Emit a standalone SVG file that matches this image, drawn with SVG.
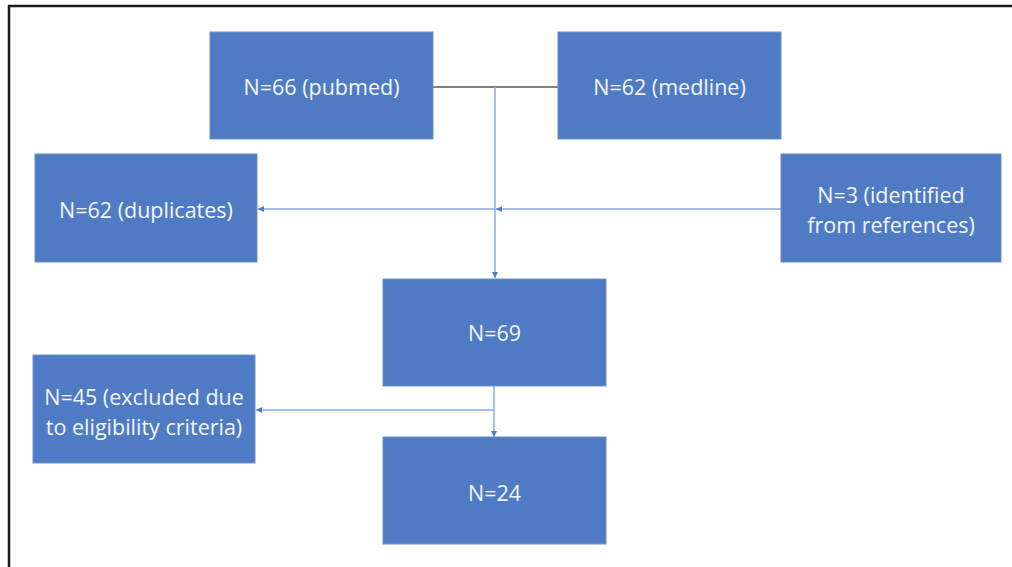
<svg xmlns="http://www.w3.org/2000/svg" width="1012" height="567" viewBox="0 0 1012 567">
<style>
.box{fill:#4f7bc4;stroke:#6a90cf;stroke-width:1}
.t{fill:#f4f6fb;font-family:"Open Sans","Liberation Sans",sans-serif;font-size:21.5px;text-anchor:middle;dominant-baseline:central}
.c{stroke:#8eaadb;stroke-width:1.5;fill:none}
</style>
<defs>
<marker id="ah" viewBox="0 0 10 10" refX="10" refY="5" markerWidth="6" markerHeight="6" orient="auto" markerUnits="userSpaceOnUse">
<path d="M0,0 L10,5 L0,10 z" fill="#4f7bc4"/>
</marker>
</defs>
<rect width="1012" height="567" fill="#fff"/>
<path d="M9,567 V6 H1012" fill="none" stroke="#1a1a1a" stroke-width="2.5"/>
<g id="connectors">
<line x1="433" y1="87" x2="558" y2="87" stroke="#7f7f7f" stroke-width="2"/>
<line class="c" x1="495" y1="87" x2="495" y2="278" marker-end="url(#ah)"/>
<line class="c" x1="781" y1="209" x2="496" y2="209" marker-end="url(#ah)"/>
<line class="c" x1="495" y1="209" x2="258" y2="209" marker-end="url(#ah)"/>
<line class="c" x1="494" y1="386" x2="494" y2="437" marker-end="url(#ah)"/>
<line class="c" x1="494" y1="410" x2="256" y2="410" marker-end="url(#ah)"/>
</g>
<g id="pubmed"><rect class="box" x="210" y="32" width="223" height="107"/><text class="t" x="321.5" y="86">N=66 (pubmed)</text></g>
<g id="medline"><rect class="box" x="558" y="32" width="223" height="107"/><text class="t" x="669.5" y="86">N=62 (medline)</text></g>
<g id="duplicates"><rect class="box" x="35" y="154" width="222" height="108"/><text class="t" x="146" y="209">N=62 (duplicates)</text></g>
<g id="references"><rect class="box" x="781" y="154" width="220" height="108"/><text class="t" x="891" y="194">N=3 (identified</text><text class="t" x="891" y="224">from references)</text></g>
<g id="n69"><rect class="box" x="383" y="279" width="223" height="107"/><text class="t" x="494.5" y="332">N=69</text></g>
<g id="excluded"><rect class="box" x="33" y="355" width="222" height="108"/><text class="t" x="144" y="396">N=45 (excluded due</text><text class="t" x="144" y="426">to eligibility criteria)</text></g>
<g id="n24"><rect class="box" x="383" y="437" width="223" height="107"/><text class="t" x="494.5" y="492">N=24</text></g>
</svg>
